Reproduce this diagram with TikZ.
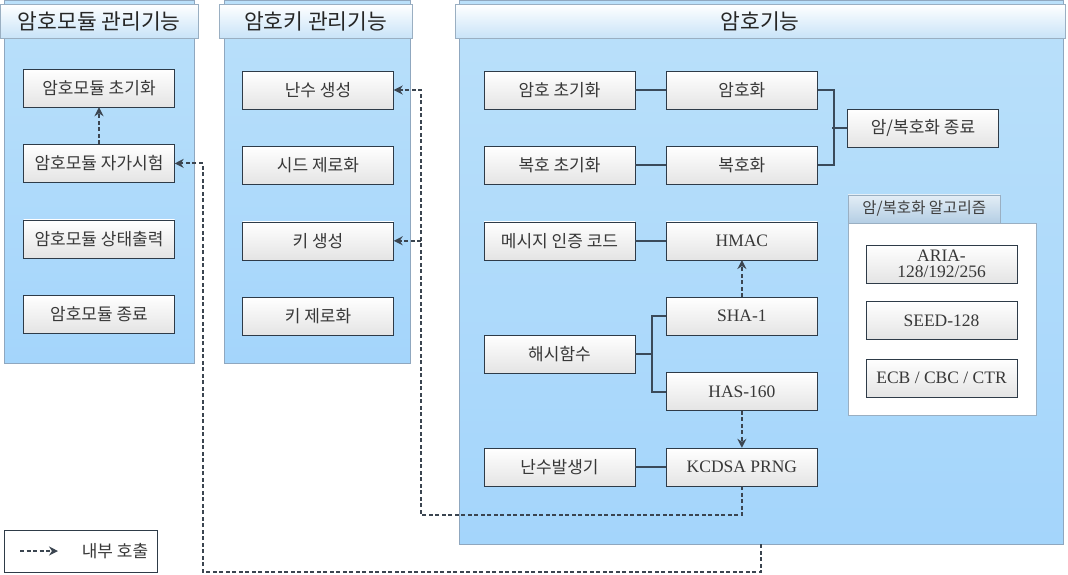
\documentclass[tikz,border=0pt]{standalone}
\usepackage{fontspec}
\setmainfont{Noto Sans CJK KR}
\newfontfamily\latinfont{Liberation Serif}
\usepackage{tikz}
\usetikzlibrary{arrows.meta,positioning,shapes,calc}

\definecolor{paneltop}{HTML}{BAE0FA}
\definecolor{panelblue}{HTML}{A4D5FB}
\definecolor{panelline}{HTML}{8FA7BF}
\definecolor{headblue}{HTML}{C8E3F8}
\definecolor{headline}{HTML}{9AAFC2}
\definecolor{boxline}{HTML}{2E3B48}
\definecolor{boxgray}{HTML}{E4E4E4}
\definecolor{linkcol}{HTML}{3A4A5A}
\definecolor{callcol}{HTML}{3B4550}
\definecolor{tabtop}{HTML}{E4EEF6}
\definecolor{tabbottom}{HTML}{B4CEE4}

\begin{document}
\begin{tikzpicture}[x=1pt,y=-1pt,
node distance=37pt and 31pt,
panel/.style={rectangle, draw=panelline, top color=paneltop, bottom color=panelblue, inner sep=0pt, anchor=north west},
head/.style={rectangle, draw=headline, top color=white, bottom color=headblue, minimum height=34pt, inner sep=0pt, anchor=north west, text=black!85, font=\fontsize{21.5}{23}\selectfont},
box/.style={rectangle, draw=boxline, top color=white, bottom color=boxgray, minimum width=151pt, minimum height=38pt, inner sep=0pt, align=center, text=black!78, font=\fontsize{17}{19}\selectfont},
lbox/.style={box, font=\latinfont\fontsize{17.5}{17}\selectfont},
link/.style={draw=linkcol, line width=2pt},
call/.style={draw=callcol, line width=2pt, dash pattern=on 4pt off 2.5pt, -{Stealth[length=9pt,width=9pt]}}
]
\useasboundingbox (0,0) rectangle (1068,574);

% Panels
\node[panel, minimum width=190pt, minimum height=363pt] (modPanel) at (4,0) {};
\node[panel, minimum width=186pt, minimum height=363pt] (keyPanel) at (224,0) {};
\node[panel, minimum width=604pt, minimum height=544pt] (cryptoPanel) at (459,0) {};
\node[head, minimum width=198pt] (modHead) at (0,4) {암호모듈 관리기능};
\node[head, minimum width=193pt] (keyHead) at (219,4) {암호키 관리기능};
\node[head, minimum width=610pt] (cryptoHead) at (455,4) {암호기능};

% Module management
\node[box] (modInit) at (99,88) {암호모듈 초기화};
\node[box, below=of modInit] (selfTest) {암호모듈 자가시험};
\node[box, below=of selfTest] (status) {암호모듈 상태출력};
\node[box, below=of status] (modEnd) {암호모듈 종료};

% Key management
\node[box] (rng) at (318,90) {난수 생성};
\node[box, below=of rng] (seedZero) {시드 제로화};
\node[box, below=of seedZero] (keyGen) {키 생성};
\node[box, below=of keyGen] (keyZero) {키 제로화};

% Crypto functions
\node[box] (encInit) at (559.5,90) {암호 초기화};
\node[box, right=of encInit] (enc) {암호화};
\node[box, below=of encInit] (decInit) {복호 초기화};
\node[box, right=of decInit] (dec) {복호화};
\node[box, below=of decInit] (mac) {메시지 인증 코드};
\node[lbox, right=of mac] (hmac) {HMAC};
\node[lbox, below=of hmac] (sha) {SHA-1};
\node[lbox, below=of sha] (has) {HAS-160};
\node[lbox, below=of has] (prng) {KCDSA PRNG};
\node[box, left=of prng] (rngGen) {난수발생기};
\node[box] (hash) at (559.5,354) {해시함수};
\node[box] (encEnd) at (923,128) {암/복호화 종료};

% Algorithms
\node[rectangle, draw=headline, fill=white, minimum width=188pt, minimum height=192pt, inner sep=0pt, anchor=north west] (algo) at (848,223) {};
\node[rectangle, draw=headline, top color=tabtop, bottom color=tabbottom, minimum width=152pt, minimum height=28pt, inner sep=0pt, anchor=south west, text=black!75, font=\fontsize{15.5}{17}\selectfont] (algoTab) at (algo.north west) {암/복호화 알고리즘};
\node[lbox, font=\latinfont\fontsize{17.5}{16}\selectfont] (aria) at (941.5,264) {ARIA-\\128/192/256};
\node[lbox, below=18pt of aria] (seed) {SEED-128};
\node[lbox, below=19pt of seed] (mode) {ECB / CBC / CTR};

% Solid links
\draw[link] (encInit) -- (enc);
\draw[link] (decInit) -- (dec);
\draw[link] (mac) -- (hmac);
\draw[link] (rngGen) -- (prng);
\draw[link] (enc.east) -- ++(16,0) |- (dec.east);
\draw[link] (encEnd.west) -- ++(-15,0);
\draw[link] (sha.west) -- ++(-14,0) |- (has.west);
\draw[link] (hash.east) -- ++(17,0);

% Internal calls
\draw[call] (selfTest) -- (modInit);
\draw[call] (sha) -- (hmac);
\draw[call] (has) -- (prng);
\coordinate (rngBus) at (421,515);
\draw[call] (prng.south) |- (rngBus) |- (rng.east);
\draw[call] (keyGen.east -| rngBus) -- (keyGen.east);
\coordinate (testOut) at (761,572);
\coordinate (testBus) at (203,572);
\draw[call] (cryptoPanel.south -| testOut) -- (testOut) -- (testBus) |- (selfTest.east);

% Legend
\node[rectangle, draw=boxline, minimum width=153pt, minimum height=42pt, inner sep=0pt, anchor=north west] (legend) at (4,530) {};
\coordinate (legA) at (20,551);
\coordinate (legB) at (58,551);
\draw[call] (legA) -- (legB);
\node[font=\fontsize{17}{19}\selectfont, text=black!78] (legText) at (115,551) {내부 호출};

\end{tikzpicture}
\end{document}
